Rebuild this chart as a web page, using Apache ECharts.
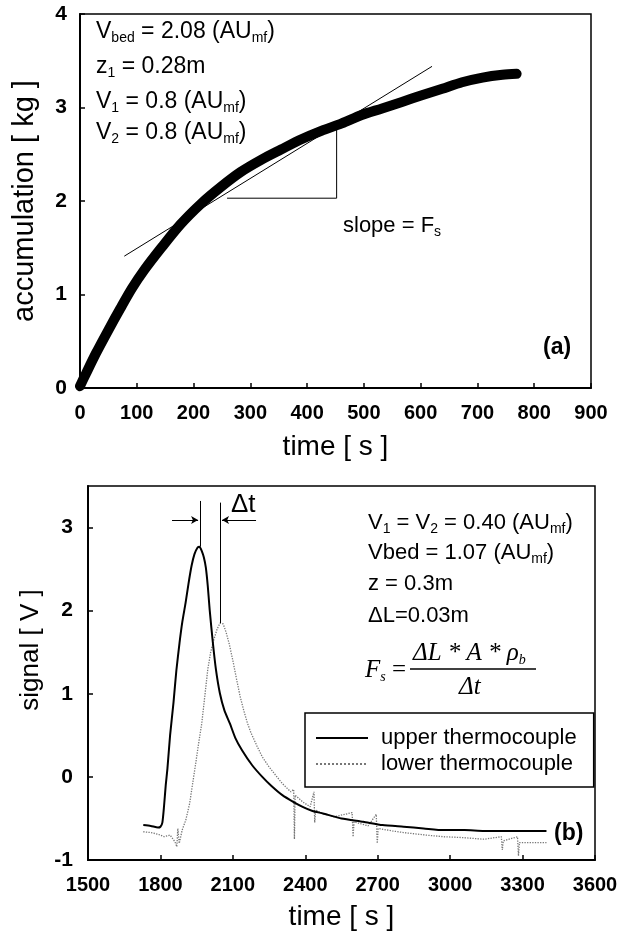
<!DOCTYPE html>
<html>
<head>
<meta charset="utf-8">
<script src="https://cdn.jsdelivr.net/npm/echarts@6/dist/echarts.min.js"></script>
<style>
  html, body { margin: 0; padding: 0; background: #fff; }
  #chart { width: 630px; height: 946px; }
</style>
</head>
<body>
<div id="chart"></div>
<script>
// (a) accumulation vs time
const accTicksX = [0, 100, 200, 300, 400, 500, 600, 700, 800, 900]
const accumulation = [
  [0, 0.02], [11, 0.16], [28, 0.37], [50, 0.62], [71, 0.85], [92, 1.07],
  [113, 1.26], [142, 1.49], [177, 1.75], [213, 1.97], [248, 2.15], [283, 2.31],
  [319, 2.44], [354, 2.55], [390, 2.66], [425, 2.75], [461, 2.83], [496, 2.92],
  [532, 2.99], [567, 3.06], [602, 3.13], [638, 3.2], [673, 3.27], [709, 3.32],
  [744, 3.35], [769, 3.36]
]
const tangentLine = [[78, 1.41], [620, 3.44]]
const slopeTriangle = [[259, 2.03], [452, 2.03], [452, 2.76]]

// (b) thermocouple signals
const signalTicksX = [1500, 1800, 2100, 2400, 2700, 3000, 3300, 3600]
const upperThermo = [
  [1729, -0.58], [1760, -0.59], [1790, -0.61], [1800, -0.6], [1808, -0.55],
  [1815, -0.35], [1822, -0.1], [1829, 0.1], [1840, 0.5], [1854, 0.89],
  [1866, 1.28], [1879, 1.61], [1891, 1.87], [1904, 2.09], [1916, 2.32],
  [1929, 2.54], [1941, 2.68], [1954, 2.76], [1962, 2.77], [1971, 2.72],
  [1980, 2.64], [1988, 2.52], [1996, 2.3], [2004, 2.01], [2017, 1.62],
  [2030, 1.29], [2046, 1.01], [2065, 0.8], [2088, 0.64], [2110, 0.47],
  [2138, 0.32], [2180, 0.14], [2222, 0], [2260, -0.11], [2305, -0.22],
  [2350, -0.3], [2389, -0.36], [2430, -0.41], [2473, -0.44], [2550, -0.5],
  [2640, -0.54], [2720, -0.58], [2807, -0.6], [2890, -0.62], [2973, -0.64],
  [3060, -0.64], [3140, -0.65], [3270, -0.65], [3399, -0.65]
]
const lowerThermo = [
  [1729, -0.66], [1760, -0.67], [1790, -0.69], [1815, -0.72], [1840, -0.7],
  [1860, -0.78], [1868, -0.84], [1872, -0.62], [1878, -0.8], [1890, -0.64],
  [1905, -0.52], [1921, -0.32], [1935, -0.05], [1946, 0.16], [1958, 0.4],
  [1971, 0.64], [1983, 0.95], [1996, 1.29], [2008, 1.5], [2021, 1.65],
  [2035, 1.78], [2047, 1.85], [2060, 1.84], [2072, 1.74], [2085, 1.6],
  [2100, 1.4], [2115, 1.18], [2130, 0.97], [2145, 0.8], [2160, 0.65],
  [2175, 0.53], [2200, 0.37], [2222, 0.24], [2250, 0.12], [2280, 0.01],
  [2305, -0.08], [2340, -0.18], [2352, -0.15], [2355, -0.75], [2358, -0.22],
  [2389, -0.3], [2420, -0.36], [2436, -0.18], [2439, -0.55], [2443, -0.4],
  [2473, -0.44], [2520, -0.48], [2594, -0.43], [2598, -0.72], [2602, -0.54],
  [2660, -0.59], [2694, -0.45], [2698, -0.8], [2702, -0.62], [2760, -0.65],
  [2807, -0.67], [2900, -0.7], [2973, -0.72], [3050, -0.73], [3140, -0.75],
  [3212, -0.72], [3216, -0.88], [3220, -0.77], [3279, -0.72], [3283, -0.95],
  [3287, -0.79], [3340, -0.79], [3399, -0.79]
]
const peakMarks = [
  [[1964, 3.32], [1964, 2.77]],
  [[2047, 3.3], [2047, 1.85]]
]
const deltaArrows = [
  [[1848, 3.09], [1956, 3.09]],
  [[2196, 3.09], [2055, 3.09]]
]

const FONT = '"Liberation Sans", Arial, sans-serif'
const SERIF = '"Liberation Serif", "Times New Roman", serif'

const chart = echarts.init(document.getElementById('chart'))

const sub = { fontSize: 14, fontFamily: FONT, color: '#000', padding: [13, 0, 0, 0] }
const norm = { fontSize: 22, fontFamily: FONT, color: '#000' }
const richText = (text, x, y, size) => ({
  type: 'text',
  left: x,
  top: y,
  style: {
    text,
    rich: { n: { ...norm, fontSize: size || 22 }, s: sub }
  }
})

const axisCommon = {
  axisLine: { onZero: false, lineStyle: { color: '#000', width: 2 } },
  axisTick: { inside: true, length: 5, lineStyle: { color: '#000', width: 1.5 } },
  splitLine: { show: false },
  nameLocation: 'middle'
}
const nameStyle = size => ({ fontFamily: FONT, fontSize: size, color: '#000' })
const labelCommon = {
  fontFamily: FONT, fontSize: 20, fontWeight: 'bold', color: '#000'
}

chart.setOption({
  animation: false,
  backgroundColor: '#fff',
  grid: [
    { left: 80, right: 39, top: 14, bottom: 558, show: true, borderColor: '#000', borderWidth: 1.5 },
    { left: 88, right: 35, top: 486, bottom: 86, show: true, borderColor: '#000', borderWidth: 1.5 }
  ],
  xAxis: [
    {
      ...axisCommon, gridIndex: 0, type: 'value', min: 0, max: 900, interval: 100,
      name: 'time [ s ]', nameGap: 45, nameTextStyle: nameStyle(28),
      axisLabel: { ...labelCommon, margin: 15, formatter: v => accTicksX.includes(v) ? String(v) : '' }
    },
    {
      ...axisCommon, gridIndex: 1, type: 'value', min: 1500, max: 3600, interval: 300,
      name: 'time [ s ]', nameGap: 43, nameTextStyle: nameStyle(28),
      axisLabel: { ...labelCommon, margin: 15, formatter: v => signalTicksX.includes(v) ? String(v) : '' }
    }
  ],
  yAxis: [
    {
      ...axisCommon, gridIndex: 0, type: 'value', min: 0, max: 4, interval: 1,
      name: 'accumulation [ kg ]', nameGap: 41, nameTextStyle: nameStyle(29),
      axisLabel: { ...labelCommon, fontSize: 21, margin: 13 }
    },
    {
      ...axisCommon, gridIndex: 1, type: 'value', min: -1, max: 3.5, interval: 1,
      name: 'signal [ V ]', nameGap: 43,
      nameTextStyle: { ...nameStyle(26), padding: [0, 0, 0, 46] },
      axisLabel: { ...labelCommon, fontSize: 21, margin: 15, showMaxLabel: false }
    }
  ],
  legend: {
    left: 305,
    top: 713,
    orient: 'vertical',
    data: ['upper thermocouple', 'lower thermocouple'],
    itemWidth: 52,
    itemHeight: 12,
    itemGap: 4,
    padding: [14, 17, 12, 10],
    borderColor: '#000',
    borderWidth: 1.5,
    backgroundColor: '#fff',
    itemStyle: { color: 'rgba(0,0,0,0)', borderWidth: 0 },
    textStyle: { fontFamily: FONT, fontSize: 22, color: '#000', padding: [0, 0, 0, 8] }
  },
  series: [
    {
      name: 'accumulation', type: 'line', xAxisIndex: 0, yAxisIndex: 0,
      data: accumulation, symbol: 'none', smooth: 0.3,
      lineStyle: { color: '#000', width: 10, cap: 'round', join: 'round' }
    },
    {
      name: 'tangent', type: 'line', xAxisIndex: 0, yAxisIndex: 0,
      data: tangentLine, symbol: 'none', lineStyle: { color: '#000', width: 1 }
    },
    {
      name: 'triangle', type: 'line', xAxisIndex: 0, yAxisIndex: 0,
      data: slopeTriangle, symbol: 'none', lineStyle: { color: '#000', width: 1 }
    },
    {
      name: 'lower thermocouple', type: 'line', xAxisIndex: 1, yAxisIndex: 1,
      data: lowerThermo, symbol: 'none',
      lineStyle: { color: '#777', width: 1.3, type: 'dotted' },
      itemStyle: { color: '#777' }
    },
    {
      name: 'upper thermocouple', type: 'line', xAxisIndex: 1, yAxisIndex: 1,
      data: upperThermo, symbol: 'none', smooth: 0.2,
      lineStyle: { color: '#000', width: 2 },
      itemStyle: { color: '#000' }
    },
    {
      name: 'marks', type: 'line', xAxisIndex: 1, yAxisIndex: 1,
      data: [], symbol: 'none',
      markLine: {
        silent: true, symbol: 'none', label: { show: false },
        lineStyle: { color: '#000', width: 1, type: 'solid' },
        data: peakMarks.map(([a, b]) => [{ coord: a }, { coord: b }])
      }
    },
    {
      name: 'arrows', type: 'line', xAxisIndex: 1, yAxisIndex: 1,
      data: [], symbol: 'none',
      markLine: {
        silent: true, symbol: ['none', 'arrow'], symbolSize: [6, 7],
        label: { show: false },
        lineStyle: { color: '#000', width: 1, type: 'solid' },
        data: deltaArrows.map(([a, b]) => [{ coord: a }, { coord: b }])
      }
    }
  ],
  graphic: [
    richText('{n|V}{s|bed}{n| = 2.08 (AU}{s|mf}{n|)}', 96, 20, 23),
    richText('{n|z}{s|1}{n| = 0.28m}', 96, 55, 23),
    richText('{n|V}{s|1}{n| = 0.8 (AU}{s|mf}{n|)}', 96, 90, 23),
    richText('{n|V}{s|2}{n| = 0.8 (AU}{s|mf}{n|)}', 96, 121, 23),
    richText('{n|slope = F}{s|s}', 343, 215, 22),
    { type: 'text', left: 543, top: 336, style: { text: '(a)', font: 'bold 23px ' + FONT, fill: '#000' } },
    { type: 'text', left: 554, top: 822, style: { text: '(b)', font: 'bold 23px ' + FONT, fill: '#000' } },
    { type: 'text', left: 231, top: 492, style: { text: 'Δt', font: '26px ' + FONT, fill: '#000' } },
    richText('{n|V}{s|1}{n| = V}{s|2}{n| = 0.40 (AU}{s|mf}{n|)}', 368, 512, 22),
    richText('{n|Vbed = 1.07 (AU}{s|mf}{n|)}', 368, 542, 22),
    { type: 'text', left: 368, top: 573, style: { text: 'z = 0.3m', font: '22px ' + FONT, fill: '#000' } },
    { type: 'text', left: 368, top: 605, style: { text: 'ΔL=0.03m', font: '22px ' + FONT, fill: '#000' } },
    {
      type: 'text', left: 365, top: 658,
      style: {
        text: '{f|F}{fs|s}{e| =}',
        rich: {
          f: { fontFamily: SERIF, fontStyle: 'italic', fontSize: 25, color: '#000' },
          fs: { fontFamily: SERIF, fontStyle: 'italic', fontSize: 14, color: '#000', padding: [13, 0, 0, 0] },
          e: { fontFamily: SERIF, fontSize: 25, color: '#000' }
        }
      }
    },
    {
      type: 'text', left: 413, top: 641,
      style: {
        text: '{f|ΔL * A * ρ}{fs|b}',
        rich: {
          f: { fontFamily: SERIF, fontStyle: 'italic', fontSize: 25, color: '#000' },
          fs: { fontFamily: SERIF, fontStyle: 'italic', fontSize: 14, color: '#000', padding: [13, 0, 0, 0] }
        }
      }
    },
    { type: 'line', shape: { x1: 410, y1: 669, x2: 536, y2: 669 }, style: { stroke: '#000', lineWidth: 1.3 } },
    { type: 'text', left: 459, top: 675, style: { text: 'Δt', font: 'italic 25px ' + SERIF, fill: '#000' } }
  ]
})
</script>
</body>
</html>
